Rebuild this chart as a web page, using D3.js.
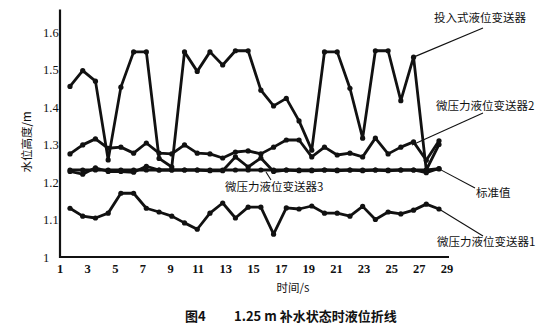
<!DOCTYPE html>
<html><head><meta charset="utf-8">
<script src="https://cdn.jsdelivr.net/npm/d3@7"></script>
<style>
html,body{margin:0;padding:0;background:#fff;}
svg{display:block;}
.cn{font-family:"Noto Sans CJK SC","Noto Sans",sans-serif;}
.num{font-family:"Liberation Serif","DejaVu Serif",serif;}
</style></head>
<body>
<svg id="chart" width="555" height="326"></svg>
<script>
// ---- data ----
const samples = d3.range(1, 31); // 30 sampled points
const xTicks = [1,3,5,7,9,11,13,15,17,19,21,23,25,27,29];
const yTicks = [1,1.1,1.2,1.3,1.4,1.5,1.6];
const seriesNames = ["投入式液位变送器","微压力液位变送器2","标准值","微压力液位变送器3","微压力液位变送器1"];
const touRuShi = [1.455,1.497,1.469,1.259,1.453,1.547,1.547,1.263,1.240,1.547,1.495,1.547,1.512,1.550,1.550,1.445,1.403,1.423,1.363,1.285,1.547,1.547,1.450,1.317,1.550,1.550,1.417,1.533,1.232,1.300];
const weiYa2 = [1.275,1.299,1.315,1.290,1.293,1.277,1.304,1.277,1.275,1.299,1.277,1.275,1.264,1.280,1.283,1.275,1.293,1.312,1.312,1.267,1.293,1.272,1.277,1.267,1.317,1.275,1.293,1.307,1.258,1.310];
const standard = [1.232,1.232,1.232,1.232,1.232,1.232,1.232,1.232,1.232,1.232,1.232,1.232,1.232,1.232,1.232,1.232,1.232,1.232,1.232,1.232,1.232,1.232,1.232,1.232,1.232,1.232,1.232,1.232,1.232,1.235];
const weiYa3 = [1.228,1.221,1.238,1.228,1.228,1.226,1.242,1.232,1.232,1.232,1.232,1.230,1.230,1.267,1.240,1.264,1.228,1.232,1.230,1.230,1.232,1.230,1.232,1.230,1.232,1.230,1.232,1.232,1.225,1.236];
const weiYa1 = [1.130,1.109,1.104,1.117,1.170,1.170,1.130,1.120,1.109,1.091,1.074,1.117,1.144,1.104,1.133,1.133,1.061,1.131,1.128,1.136,1.117,1.117,1.109,1.135,1.100,1.120,1.115,1.125,1.141,1.128];
const xTitle = "时间/s";
const yTitle = "水位高度/m";
const caption1 = "图4";
const caption2 = "1.25 m 补水状态时液位折线";

const svg = d3.select("#chart");
const ink = "#111";

const x = d3.scaleLinear().domain([1, 29]).range([60, 447]);
const xs = d3.scalePoint().domain(samples).range([70, 439]);
const y = d3.scaleLinear().domain([1, 1.66]).range([257, 9.5]);

// axes
svg.append("line").attr("x1", x(1)).attr("x2", x(1)).attr("y1", y(1.66)).attr("y2", y(1) + 1)
  .attr("stroke", ink).attr("stroke-width", 2.2);
svg.append("line").attr("x1", x(1) - 1).attr("x2", 449).attr("y1", y(1)).attr("y2", y(1))
  .attr("stroke", ink).attr("stroke-width", 2.2);

svg.selectAll(".yt").data(yTicks).join("text").attr("class","num")
  .attr("x", 43).attr("y", d => y(d) + 4.5)
  .attr("font-size", 12.5).attr("fill", ink)
  .text(d => d === 1 ? "1" : d3.format(".1f")(d));

svg.selectAll(".xt").data(xTicks).join("text").attr("class","num")
  .attr("x", d => x(d)).attr("y", 273)
  .attr("text-anchor", "middle").attr("font-size", 12.5).attr("font-weight", "bold").attr("fill", ink)
  .text(d => d);

// series lines
const allSeries = [touRuShi, weiYa2, standard, weiYa3, weiYa1];
const line = d3.line().x((d, i) => xs(samples[i])).y(d => y(d));
allSeries.forEach((s, k) => {
  const g = svg.append("g");
  g.append("path").attr("d", line(s)).attr("fill", "none").attr("stroke", ink)
    .attr("stroke-width", k === 2 ? 3.2 : 2.8).attr("stroke-linejoin", "round");
  g.selectAll("circle").data(s).join("circle")
    .attr("cx", (d, i) => xs(samples[i])).attr("cy", d => y(d)).attr("r", 2.6).attr("fill", ink);
});

// labels with leader lines
const labels = [
  {name: seriesNames[0], sx: xs(28), sy: y(touRuShi[27]), ex: 483, ey: 28, tx: 434, ty: 22},
  {name: seriesNames[1], sx: 412, sy: 145, ex: 483, ey: 113, tx: 436, ty: 110},
  {name: seriesNames[2], sx: xs(30), sy: y(standard[29]), ex: 475, ey: 188, tx: 476, ty: 197},
  {name: seriesNames[4], sx: xs(30), sy: y(weiYa1[29]), ex: 483, ey: 236, tx: 437, ty: 246},
  {name: seriesNames[3], sx: 266, sy: 172, ex: 271, ey: 180, tx: 225, ty: 191}
];
labels.forEach(l => {
  svg.append("line").attr("x1", l.sx).attr("y1", l.sy).attr("x2", l.ex).attr("y2", l.ey)
    .attr("stroke", ink).attr("stroke-width", 1.1);
  const t = svg.append("text").attr("class","cn").attr("x", l.tx).attr("y", l.ty)
    .attr("font-size", 11.5).attr("fill", ink);
  t.text(l.name);
});

// axis titles
svg.append("text").attr("class","cn")
  .attr("transform", "translate(31,142) rotate(-90)")
  .attr("text-anchor", "middle").attr("font-size", 11.5).attr("fill", ink).text(yTitle);
svg.append("text").attr("class","cn")
  .attr("x", 293).attr("y", 292).attr("text-anchor", "middle")
  .attr("font-size", 11.5).attr("fill", ink).text(xTitle);

// caption
svg.append("text").attr("class","cn").attr("x", 185).attr("y", 321)
  .attr("font-size", 13).attr("font-weight", "bold").attr("fill", ink).text(caption1);
svg.append("text").attr("class","cn").attr("x", 234).attr("y", 321)
  .attr("font-size", 13).attr("font-weight", "bold").attr("fill", ink).text(caption2);
</script>
</body></html>
